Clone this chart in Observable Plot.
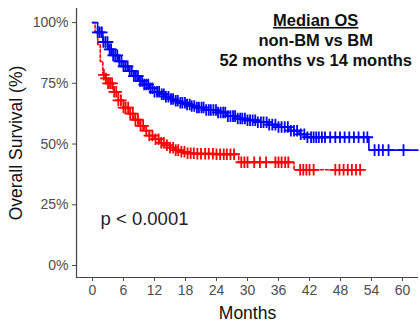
<!DOCTYPE html>
<html>
<head>
<meta charset="utf-8">
<script src="https://cdn.jsdelivr.net/npm/d3@7"></script>
<script src="https://cdn.jsdelivr.net/npm/@observablehq/plot@0.6"></script>
<style>
  html, body { margin: 0; padding: 0; background: #fff; }
  #chart svg { display: block; font-family: "Liberation Sans", Arial, sans-serif; }
</style>
</head>
<body>
<div id="chart"></div>
<script>
// Kaplan-Meier steps: non-BM (blue)
const nonBmTime = [0,1,2,3,4,5,6,7,8,9,10,11,12,13,14,15,16,17,18,19,20,22,24,26,28,30,32,34,36,38,40,41.5,53.5,63];
const nonBmSurv = [100,96,92,89,86.5,84,82,80,78,76,74.5,73,71.5,70.5,69.5,68.5,67.8,67,66.3,65.7,65,64,63,61.5,60.5,59.8,59,58,57,55.5,54,52.8,47.5,47.5];
// Kaplan-Meier steps: BM (red)
const bmTime = [0,0.5,1,1.5,2,2.5,3,4,5,6,7,8,9,10,11,12,13,14,15,16,17,18,20,24,28.3,39,52.2];
const bmSurv = [100,96,91,84,78.5,77,75,71.5,68,65,62.5,60,57.5,55.5,53.5,52,50.5,49.5,48.5,47.5,46.8,46.2,46,45.8,42.5,39.4,39.4];
// Censoring times
const nonBmCensor = [1.0,1.4,1.8,2.1,2.5,2.9,3.3,3.6,4.0,4.4,4.8,5.2,5.6,6.0,6.4,6.8,7.2,7.6,8.0,8.4,8.8,9.2,9.6,10.0,10.4,10.8,11.2,11.6,12.0,12.5,12.9,13.4,13.8,14.2,14.7,15.2,15.6,16.1,16.5,17.0,17.4,17.9,18.3,18.8,19.2,19.7,20.2,20.6,21.1,21.5,22.0,22.5,22.9,23.4,23.9,24.3,24.8,25.3,25.7,26.2,26.7,27.2,27.6,28.1,28.6,29.0,29.5,30.0,30.5,31.0,31.5,32.0,32.6,33.1,33.7,34.2,34.8,35.4,36.0,36.6,37.2,37.8,38.4,39.0,39.6,40.3,41.0,41.6,42.3,42.8,43.3,43.8,44.4,45.0,46.0,47.0,47.9,48.8,49.7,50.6,51.5,52.5,53.2,54.6,55.4,56.2,57.3,60.2];
const bmCensor = [2.2,2.6,3.0,3.4,3.8,4.2,4.6,5.0,5.5,6.0,6.4,6.9,7.3,7.8,8.3,8.8,9.3,9.8,10.4,11.0,11.6,12.2,12.8,13.3,13.8,14.4,15.0,15.6,16.1,16.6,17.2,17.8,18.4,19.0,19.6,20.3,21.0,21.8,22.5,23.3,24.0,24.7,25.4,26.0,26.7,27.4,28.8,29.4,30.0,31.3,32.4,33.6,35.4,36.0,36.6,37.3,37.9,40.2,40.8,41.4,42.0,42.8,47.0,47.8,48.6,49.4,50.2,51.0,51.8];

const xTicks = [0,6,12,18,24,30,36,42,48,54,60];
const yTicks = [0,25,50,75,100];
const xDomain = [-3.1, 63.1];
const yDomain = [-4.94, 105.8];
const annotationLines = ["Median OS", "non-BM vs BM", "52 months vs 14 months"];
const pText = "p < 0.0001";

const steps = (times, survs) => times.map((t, i) => ({t, s: survs[i]}));
const blueSteps = steps(nonBmTime, nonBmSurv);
const redSteps = steps(bmTime, bmSurv);
const bis = d3.bisector(d => d.t).right;
const censorPts = (times, st) => times.map(t => ({t, s: st[Math.max(0, bis(st, t) - 1)].s}));
const blueCensor = censorPts(nonBmCensor, blueSteps);
const redCensor = censorPts(bmCensor, redSteps);

const annot = annotationLines.map((txt, i) => ({txt, x: 43.2, y: [100.8, 92.6, 84.4][i]}));

const chart = Plot.plot({
  width: 420,
  height: 321,
  marginLeft: 76,
  marginRight: 2,
  marginTop: 8,
  marginBottom: 44,
  style: {fontFamily: "Liberation Sans, Arial, sans-serif", background: "#fff"},
  x: {domain: xDomain},
  y: {domain: yDomain},
  marks: [
    Plot.axisX({ticks: xTicks, tickSize: 4, tickPadding: 4, fontSize: 14, color: "#4d4d4d",
      label: "Months", labelAnchor: "center", labelArrow: "none", labelOffset: 41}),
    Plot.axisY({ticks: yTicks, tickSize: 4, tickPadding: 4, fontSize: 14, color: "#4d4d4d",
      tickFormat: d => d + "%",
      label: "Overall Survival (%)", labelAnchor: "center", labelArrow: "none", labelOffset: 67}),
    Plot.ruleX([xDomain[0]], {stroke: "#444", strokeWidth: 1.2}),
    Plot.ruleY([yDomain[0]], {stroke: "#444", strokeWidth: 1.2}),
    Plot.line(redSteps, {x: "t", y: "s", curve: "step-after", stroke: "#ff0000", strokeWidth: 1.6, strokeDasharray: "3,2"}),
    Plot.line(blueSteps, {x: "t", y: "s", curve: "step-after", stroke: "#0000ff", strokeWidth: 1.6}),
    Plot.dot(redCensor, {x: "t", y: "s", symbol: "plus", r: 3.8, stroke: "#ff0000", strokeWidth: 1.8}),
    Plot.dot(blueCensor, {x: "t", y: "s", symbol: "plus", r: 3.8, stroke: "#0000ff", strokeWidth: 1.8}),
    Plot.text(annot, {x: "x", y: "y", text: "txt", fontSize: 16.5, fontWeight: "bold", fill: "#111", textAnchor: "middle"}),
    Plot.text([pText], {x: 1.55, y: 19.3, text: d => d, fontSize: 18.5, fill: "#222", textAnchor: "start"})
  ]
});
const svg = d3.select(chart);
svg.selectAll("[aria-label='y-axis label'] text, [aria-label='x-axis label'] text").attr("font-size", 17.5).attr("fill", "#111");
svg.selectAll("text").filter(function() { return this.textContent === "Median OS"; }).attr("text-decoration", "underline");
document.getElementById("chart").appendChild(chart);
</script>
</body>
</html>
